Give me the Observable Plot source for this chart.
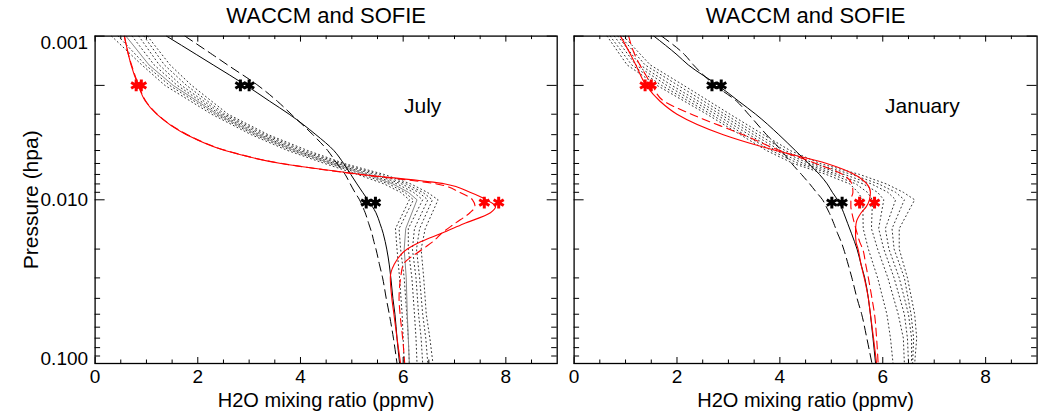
<!DOCTYPE html>
<html><head><meta charset="utf-8">
<script src="https://cdn.jsdelivr.net/npm/d3@7"></script>
<script src="https://cdn.jsdelivr.net/npm/@observablehq/plot@0.6"></script>
<style>
body{margin:0;background:#fff}
#wrap{position:relative;width:1039px;height:412px;overflow:hidden}
#wrap svg{position:absolute;top:0}
</style>
</head><body><div id="wrap"></div>
<script>
// ---------- data ----------
const titles = ["WACCM and SOFIE", "WACCM and SOFIE"];
const monthLabels = ["July", "January"];
const labelX = [6.38, 6.77];
const labelP = [0.0027, 0.0027];
const xLabel = "H2O mixing ratio (ppmv)";
const yLabel = "Pressure (hpa)";
const xMajorTicks = [0, 2, 4, 6, 8];
const xMinorTicks = [0.5, 1, 1.5, 2.5, 3, 3.5, 4.5, 5, 5.5, 6.5, 7, 7.5, 8.5];
const yMajorTicks = [0.001, 0.002, 0.01, 0.1];
const yMinorTicks = [0.003, 0.004, 0.005, 0.006, 0.007, 0.008, 0.009, 0.02, 0.03, 0.04, 0.05, 0.06, 0.07, 0.08, 0.09];
const yTickLabels = [0.001, 0.01, 0.1];

// model pressure grid (hPa)
const pModel = [0.001, 0.0013, 0.0015, 0.002, 0.0025, 0.003, 0.004, 0.005, 0.006, 0.007, 0.008, 0.009, 0.01, 0.011, 0.012, 0.014, 0.016, 0.018, 0.02, 0.025, 0.03, 0.04, 0.05, 0.07, 0.1];
// July
const julBlackSolid  = [1.39, 1.98, 2.30, 2.94, 3.40, 3.78, 4.30, 4.65, 4.84, 4.98, 5.10, 5.21, 5.31, 5.40, 5.47, 5.55, 5.61, 5.65, 5.68, 5.73, 5.76, 5.80, 5.84, 5.88, 5.93];
const julBlackDashed = [1.75, 2.29, 2.58, 3.17, 3.55, 3.82, 4.24, 4.53, 4.71, 4.87, 4.97, 5.06, 5.15, 5.21, 5.26, 5.33, 5.39, 5.43, 5.47, 5.54, 5.60, 5.67, 5.73, 5.81, 5.88];
const julRedSolid    = [0.57, 0.65, 0.70, 0.84, 0.98, 1.20, 1.78, 2.53, 3.62, 5.20, 6.82, 7.30, 7.62, 7.80, 7.70, 7.18, 6.75, 6.35, 6.08, 5.82, 5.75, 5.78, 5.82, 5.88, 5.95];
const julRedDashed   = [0.57, 0.65, 0.71, 0.85, 0.99, 1.21, 1.80, 2.55, 3.64, 5.15, 6.65, 7.10, 7.35, 7.40, 7.30, 7.00, 6.75, 6.58, 6.38, 6.00, 5.95, 5.92, 5.94, 5.99, 6.03];
// January
const janBlackSolid  = [1.55, 2.00, 2.22, 2.80, 3.20, 3.53, 3.98, 4.30, 4.56, 4.77, 4.92, 5.02, 5.12, 5.19, 5.24, 5.32, 5.39, 5.45, 5.50, 5.58, 5.65, 5.72, 5.76, 5.81, 5.86];
const janBlackDashed = [1.70, 2.15, 2.32, 2.74, 3.16, 3.39, 3.74, 4.03, 4.23, 4.42, 4.58, 4.71, 4.83, 4.90, 4.96, 5.05, 5.12, 5.19, 5.24, 5.33, 5.40, 5.50, 5.59, 5.69, 5.79];
const janRedSolid    = [0.90, 1.10, 1.20, 1.40, 1.67, 2.00, 2.90, 3.92, 4.91, 5.45, 5.69, 5.76, 5.74, 5.68, 5.58, 5.48, 5.47, 5.48, 5.52, 5.58, 5.64, 5.72, 5.76, 5.82, 5.88];
const janRedDashed   = [1.06, 1.18, 1.28, 1.52, 1.75, 2.28, 3.28, 4.00, 4.70, 5.22, 5.40, 5.42, 5.38, 5.38, 5.40, 5.45, 5.50, 5.55, 5.61, 5.67, 5.72, 5.79, 5.84, 5.88, 5.91];

// SOFIE-like dotted profiles pressure grid
const pObs = [0.001, 0.0015, 0.002, 0.003, 0.004, 0.005, 0.006, 0.007, 0.008, 0.009, 0.01, 0.015, 0.02, 0.03, 0.05, 0.07, 0.1];
const julDotted = [
  [0.32, 0.91, 1.36, 2.27, 3.04, 3.75, 4.47, 5.11, 5.63, 5.95, 6.12, 5.85, 5.88, 5.93, 5.98, 6.00, 6.02],
  [0.45, 0.98, 1.45, 2.33, 3.10, 3.82, 4.55, 5.20, 5.72, 6.03, 6.20, 5.92, 5.95, 6.02, 6.07, 6.10, 6.12],
  [0.72, 1.15, 1.60, 2.43, 3.20, 3.93, 4.66, 5.35, 5.88, 6.20, 6.38, 6.10, 6.10, 6.17, 6.22, 6.25, 6.27],
  [0.85, 1.25, 1.68, 2.48, 3.25, 3.99, 4.72, 5.43, 5.97, 6.30, 6.48, 6.22, 6.18, 6.25, 6.30, 6.35, 6.38],
  [0.95, 1.35, 1.78, 2.53, 3.31, 4.06, 4.78, 5.53, 6.06, 6.38, 6.57, 6.32, 6.26, 6.32, 6.38, 6.44, 6.48],
  [1.02, 1.46, 1.88, 2.59, 3.37, 4.14, 4.85, 5.63, 6.15, 6.47, 6.68, 6.43, 6.35, 6.40, 6.45, 6.52, 6.58]
];
const julGraySolid = [0.60, 1.05, 1.52, 2.38, 3.15, 3.88, 4.60, 5.28, 5.80, 6.10, 6.27, 6.05, 6.02, 6.06, 6.08, 6.10, 6.12];
const janDotted = [
  [0.64, 1.03, 1.61, 2.58, 3.23, 3.74, 4.26, 4.90, 5.36, 5.52, 5.61, 5.62, 5.72, 5.90, 6.08, 6.15, 6.20],
  [0.70, 1.12, 1.70, 2.66, 3.31, 3.83, 4.36, 5.02, 5.48, 5.70, 5.80, 5.78, 5.90, 6.10, 6.30, 6.40, 6.42],
  [0.78, 1.20, 1.80, 2.75, 3.40, 3.92, 4.46, 5.12, 5.62, 5.90, 6.02, 5.92, 6.02, 6.22, 6.42, 6.48, 6.50],
  [0.85, 1.28, 1.90, 2.84, 3.49, 4.01, 4.56, 5.25, 5.78, 6.10, 6.25, 6.05, 6.12, 6.32, 6.50, 6.56, 6.56],
  [0.90, 1.38, 2.02, 2.93, 3.58, 4.10, 4.66, 5.40, 5.92, 6.25, 6.42, 6.18, 6.22, 6.42, 6.55, 6.60, 6.58],
  [0.96, 1.48, 2.13, 3.03, 3.68, 4.20, 4.78, 5.55, 6.07, 6.40, 6.62, 6.32, 6.32, 6.48, 6.62, 6.66, 6.62]
];

// asterisk markers
const julStarX = [0.80, 0.90, 2.83, 3.00, 5.28, 5.46, 7.58, 7.86];
const julStarP = [0.002, 0.002, 0.002, 0.002, 0.0104, 0.0104, 0.0104, 0.0104];
const julStarC = ["red", "red", "black", "black", "black", "black", "red", "red"];
const janStarX = [1.38, 1.50, 2.68, 2.86, 5.01, 5.21, 5.55, 5.84];
const janStarP = [0.002, 0.002, 0.002, 0.002, 0.0104, 0.0104, 0.0104, 0.0104];
const janStarC = ["red", "red", "black", "black", "black", "black", "red", "red"];

// ---------- drawing ----------
const H = 412, MT = 35.6, MB = 49;
const FH = H - MT - MB;
const FONT = "'Liberation Sans', Arial, Helvetica, sans-serif";
const FS_TICK = 19, FS_TITLE = 22, FS_LABEL = 20;

function toPts(ps, xs) { return ps.map((p, i) => ({p, x: xs[i]})); }

function panel(cfg) {
  const FW = cfg.width - cfg.ml - cfg.mr;
  const marks = [];
  cfg.dotted.forEach(arr => marks.push(Plot.line(toPts(pObs, arr), {x: "x", y: "p", stroke: "#333", strokeWidth: 1, strokeDasharray: "1,3", clip: true})));
  if (cfg.gray) marks.push(Plot.line(toPts(pObs, cfg.gray), {x: "x", y: "p", stroke: "#888", strokeWidth: 1, clip: true}));
  marks.push(Plot.line(toPts(pModel, cfg.bs), {x: "x", y: "p", stroke: "black", strokeWidth: 1, curve: "monotone-y", clip: true}));
  marks.push(Plot.line(toPts(pModel, cfg.bd), {x: "x", y: "p", stroke: "black", strokeWidth: 1, strokeDasharray: "9,5", curve: "monotone-y", clip: true}));
  marks.push(Plot.line(toPts(pModel, cfg.rd), {x: "x", y: "p", stroke: "red", strokeWidth: 1.1, strokeDasharray: "8,5", curve: "monotone-y", clip: true}));
  marks.push(Plot.line(toPts(pModel, cfg.rs), {x: "x", y: "p", stroke: "red", strokeWidth: 1.1, curve: "monotone-y", clip: true}));
  const stars = cfg.sx.map((x, i) => ({x, p: cfg.sp[i], c: cfg.sc[i]}));
  marks.push(Plot.dot(stars, {x: "x", y: "p", symbol: "asterisk", r: 5.5, stroke: "c", strokeWidth: 3}));
  // ticks on all four sides, pointing inward
  marks.push(Plot.tickX(xMajorTicks, {x: d => d, insetTop: FH - 6, stroke: "black"}));
  marks.push(Plot.tickX(xMajorTicks, {x: d => d, insetBottom: FH - 6, stroke: "black"}));
  marks.push(Plot.tickX(xMinorTicks, {x: d => d, insetTop: FH - 3.5, stroke: "black"}));
  marks.push(Plot.tickX(xMinorTicks, {x: d => d, insetBottom: FH - 3.5, stroke: "black"}));
  marks.push(Plot.tickY(yMajorTicks, {y: d => d, insetRight: FW - 10, stroke: "black"}));
  marks.push(Plot.tickY(yMajorTicks, {y: d => d, insetLeft: FW - 10, stroke: "black"}));
  marks.push(Plot.tickY(yMinorTicks, {y: d => d, insetRight: FW - 5.5, stroke: "black"}));
  marks.push(Plot.tickY(yMinorTicks, {y: d => d, insetLeft: FW - 5.5, stroke: "black"}));
  marks.push(Plot.frame({stroke: "black", strokeWidth: 1.3}));
  marks.push(Plot.text(xMajorTicks, {x: d => d, frameAnchor: "bottom", lineAnchor: "top", dy: 6, text: d => String(d), fontSize: FS_TICK, fill: "black"}));
  marks.push(Plot.text([xLabel], {frameAnchor: "bottom", textAnchor: "middle", lineAnchor: "middle", dy: 37, fontSize: FS_LABEL, fill: "black"}));
  marks.push(Plot.text([cfg.title], {frameAnchor: "top", textAnchor: "middle", lineAnchor: "middle", dy: -20, fontSize: FS_TITLE, fill: "black"}));
  marks.push(Plot.text([{x: cfg.lx, p: cfg.lp, t: cfg.label}], {x: "x", y: "p", text: "t", fontSize: 21, fill: "black"}));
  if (cfg.yLabels) {
    const fmt = d3.format(".3f");
    marks.push(Plot.text([yTickLabels[0]], {y: d => d, frameAnchor: "left", textAnchor: "end", lineAnchor: "top", dx: -7, dy: -1, text: fmt, fontSize: FS_TICK, fill: "black"}));
    marks.push(Plot.text([yTickLabels[1]], {y: d => d, frameAnchor: "left", textAnchor: "end", lineAnchor: "middle", dx: -7, text: fmt, fontSize: FS_TICK, fill: "black"}));
    marks.push(Plot.text([yTickLabels[2]], {y: d => d, frameAnchor: "left", textAnchor: "end", lineAnchor: "bottom", dx: -7, dy: 1, text: fmt, fontSize: FS_TICK, fill: "black"}));
    marks.push(Plot.text([yLabel], {frameAnchor: "left", textAnchor: "middle", lineAnchor: "middle", rotate: -90, dx: -64, fontSize: 21, fill: "black"}));
  }
  const svg = Plot.plot({
    width: cfg.width, height: H,
    marginTop: MT, marginBottom: MB, marginLeft: cfg.ml, marginRight: cfg.mr,
    x: {domain: [0, 9], axis: null},
    y: {type: "log", domain: [0.001, 0.1], reverse: true, axis: null},
    style: {fontFamily: FONT, fontSize: "19px", background: "white", overflow: "visible"},
    marks
  });
  svg.style.left = cfg.left + "px";
  return svg;
}

const wrap = document.getElementById("wrap");
wrap.appendChild(panel({
  left: 0, width: 560, ml: 94.6, mr: 3.3, title: titles[0], label: monthLabels[0], lx: labelX[0], lp: labelP[0],
  dotted: julDotted, gray: julGraySolid, bs: julBlackSolid, bd: julBlackDashed, rs: julRedSolid, rd: julRedDashed,
  sx: julStarX, sp: julStarP, sc: julStarC, yLabels: true
}));
wrap.appendChild(panel({
  left: 565, width: 474, ml: 8.6, mr: 2.4, title: titles[1], label: monthLabels[1], lx: labelX[1], lp: labelP[1],
  dotted: janDotted, gray: null, bs: janBlackSolid, bd: janBlackDashed, rs: janRedSolid, rd: janRedDashed,
  sx: janStarX, sp: janStarP, sc: janStarC, yLabels: false
}));
</script></body></html>
